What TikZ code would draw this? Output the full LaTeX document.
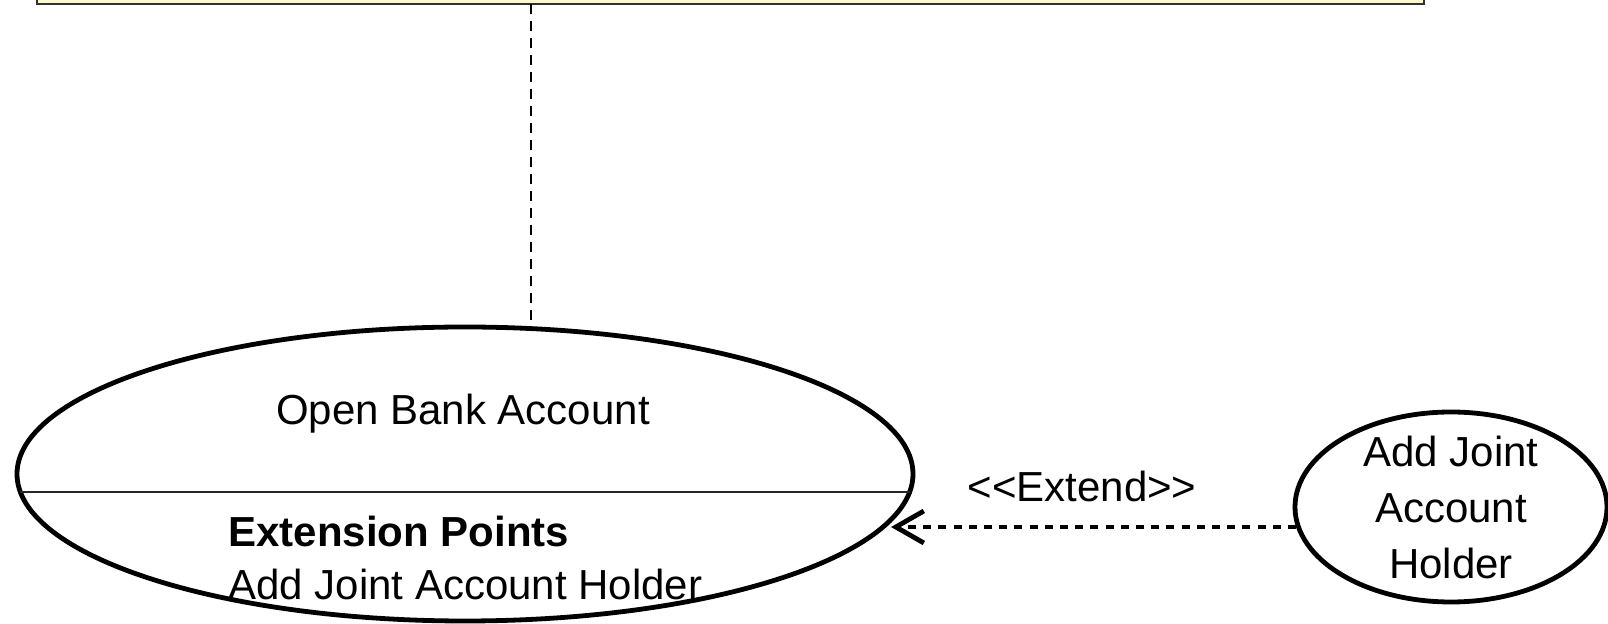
\documentclass[tikz,border=0pt]{standalone}
\usepackage{fontspec}
\setmainfont{Liberation Sans}
\usetikzlibrary{shapes.geometric,arrows.meta}
\definecolor{notefill}{RGB}{252,249,200}
\definecolor{noteline}{RGB}{50,50,50}
\begin{document}
\begin{tikzpicture}[x=0.5pt,y=-0.5pt,
  notebox/.style={draw=noteline,line width=1.2pt,fill=notefill,rectangle,inner sep=0pt},
  usecase/.style={draw=black,line width=2.4pt,ellipse,inner sep=0pt,fill=white},
  lbl/.style={font=\fontsize{21}{28}\selectfont,inner sep=0pt},
  anchorline/.style={draw=black,line width=1pt,dash pattern=on 5pt off 3.5pt},
  sepline/.style={draw=black!85,line width=0.8pt},
  extendarrow/.style={draw=black,line width=2.4pt,dash pattern=on 4pt off 3.6pt,
    -{Straight Barb[length=14pt,width=16pt,line width=2.4pt]}}]
\useasboundingbox (0,0) rectangle (1608,624);
% note (cut off at top)
\node[notebox,minimum width=693.5pt,minimum height=27pt] (note) at (730.5,-23) {};
% use cases
\node[usecase,minimum width=448pt,minimum height=147pt] (oba) at (465,474) {};
\node[usecase,minimum width=156pt,minimum height=95pt] (ajah) at (1451,507) {};
% texts
\node[lbl,anchor=base] (obaTitle) at (463,425) {Open Bank Account};
\node[lbl,anchor=base west] (obaExt) at (228,547) {\bfseries Extension Points};
\node[lbl,anchor=base west] (obaPoint) at (228,600) {Add Joint Account Holder};
\node[lbl,align=center] (ajahText) at (ajah.center) {Add Joint\\Account\\Holder};
\node[lbl,anchor=base] (extLabel) at (1082,502) {{<}{<}Extend{>}{>}};
% coordinates
\coordinate (dashTop) at (531,4);
\coordinate (dashBot) at (531,328);
\coordinate (sepL) at (20.4,492);
\coordinate (sepR) at (909.6,492);
\coordinate (extFrom) at (1296,527);
\coordinate (extTo) at (891,527);
% connectors
\draw[anchorline] (dashTop) -- (dashBot);
\draw[sepline] (sepL) -- (sepR);
\draw[extendarrow] (extFrom) -- (extTo);
\end{tikzpicture}
\end{document}
